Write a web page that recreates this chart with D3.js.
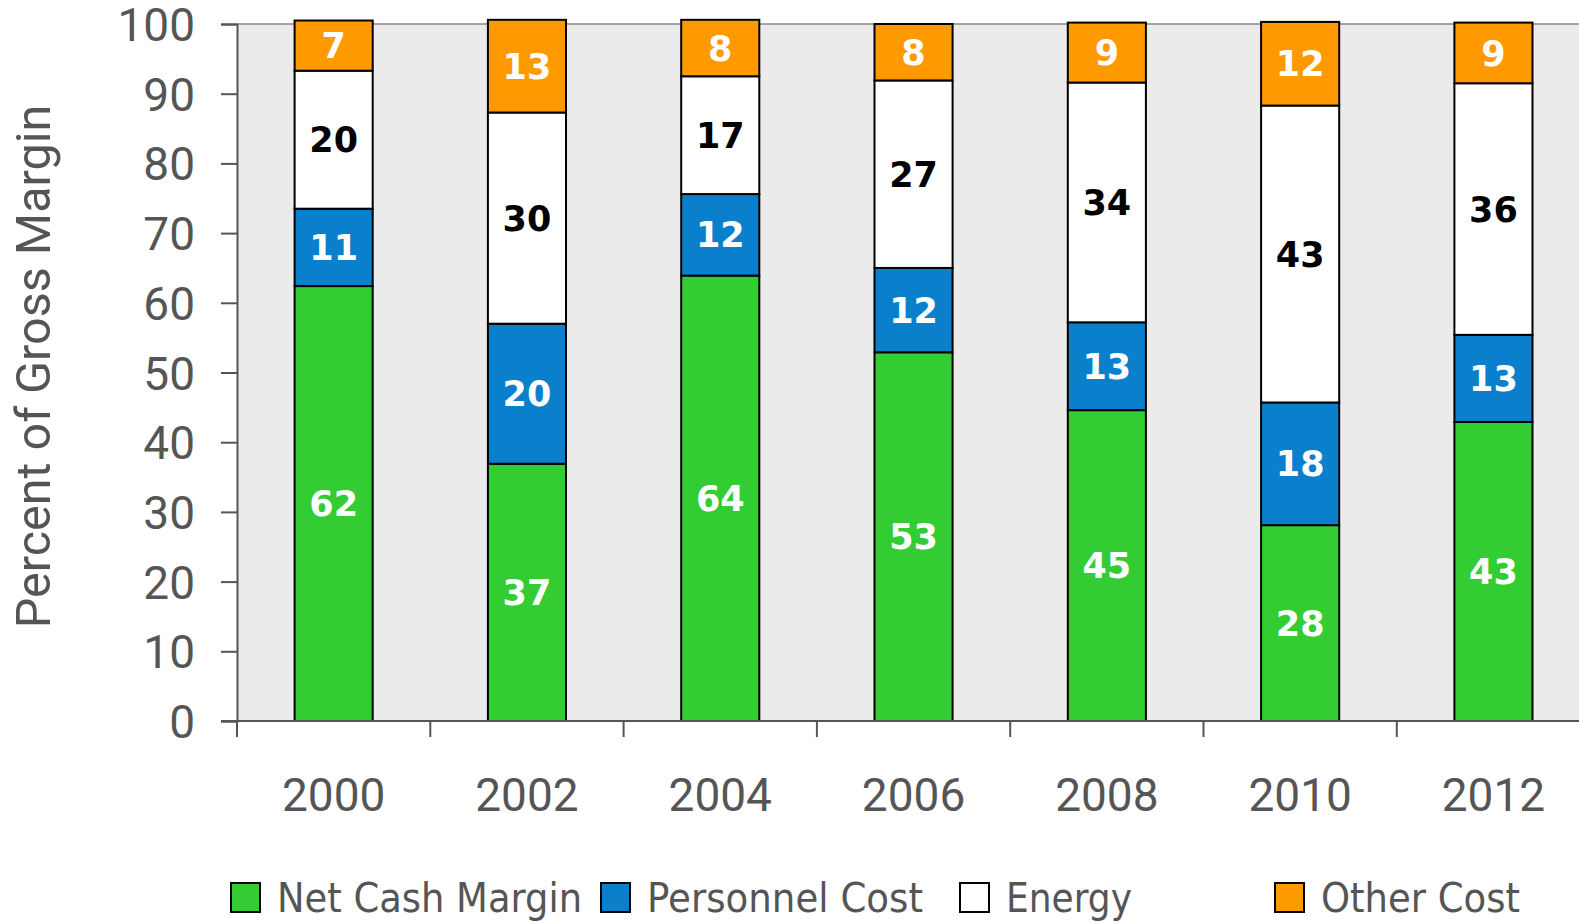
<!DOCTYPE html>
<html>
<head>
<meta charset="utf-8">
<script src="https://cdnjs.cloudflare.com/ajax/libs/d3/7.8.5/d3.min.js"></script>
<style>
  body { margin: 0; background: #fff; }
  svg { display: block; }
</style>
</head>
<body>
<svg width="1579" height="922"></svg>
<script>
var years = ["2000", "2002", "2004", "2006", "2008", "2010", "2012"];
var seriesNames = ["Net Cash Margin", "Personnel Cost", "Energy", "Other Cost"];
var netCash   = [62.4, 36.9, 63.9, 52.9, 44.6, 28.1, 42.9];
var personnel = [11.1, 20.1, 11.7, 12.1, 12.6, 17.6, 12.5];
var energy    = [19.8, 30.3, 16.9, 26.9, 34.4, 42.6, 36.1];
var other     = [7.2, 13.3, 8.1, 8.1, 8.6, 12.0, 8.7];
var yTicks = [0, 10, 20, 30, 40, 50, 60, 70, 80, 90, 100];

var colors = ["#33cc33", "#0a7fcc", "#ffffff", "#ff9900"];
var labelColors = ["#fff", "#fff", "#000", "#fff"];
var keys = ["net", "pers", "energy", "other"];

var rows = years.map(function(y, i) {
  return { year: y, net: netCash[i], pers: personnel[i], energy: energy[i], other: other[i] };
});

var svg = d3.select("svg"),
    width = 1579,
    plotLeft = 237,
    plotTop = 24,
    plotBottom = 721;

var x = d3.scaleBand().domain(years).range([plotLeft, plotLeft + 7 * 193.3]).padding(0);
var y = d3.scaleLinear().domain([0, 100]).range([plotBottom, plotTop]);
var barW = x.bandwidth() * 0.404;

// plot background
svg.append("rect")
    .attr("x", plotLeft).attr("y", y(100))
    .attr("width", width - plotLeft).attr("height", y(0) - y(100))
    .attr("fill", "#ebebeb");

svg.append("line")
    .attr("x1", plotLeft).attr("x2", width)
    .attr("y1", y(100)).attr("y2", y(100))
    .attr("stroke", "#888").attr("stroke-width", 1.5);

var layers = d3.stack().keys(keys)(rows);

var layer = svg.append("g").selectAll("g")
  .data(layers)
  .enter().append("g")
    .attr("fill", function(d, i) { return colors[i]; });

layer.selectAll("rect")
  .data(function(d) { return d; })
  .enter().append("rect")
    .attr("x", function(d) { return x(d.data.year) + (x.bandwidth() - barW) / 2; })
    .attr("y", function(d) { return y(d[1]); })
    .attr("width", barW)
    .attr("height", function(d) { return y(d[0]) - y(d[1]); })
    .attr("stroke", "#000")
    .attr("stroke-width", 2);

layer.each(function(l, li) {
  d3.select(this).selectAll("text")
    .data(l)
    .enter().append("text")
      .attr("x", function(d) { return x(d.data.year) + x.bandwidth() / 2; })
      .attr("y", function(d) { return (y(d[0]) + y(d[1])) / 2; })
      .attr("dy", "0.36em")
      .attr("text-anchor", "middle")
      .attr("font-family", "DejaVu Sans, sans-serif")
      .attr("font-weight", "bold")
      .attr("font-size", 35)
      .attr("fill", labelColors[li])
      .text(function(d) { return Math.round(d[1] - d[0]); });
});

// y axis
var yAxis = svg.append("g")
    .attr("transform", "translate(" + plotLeft + ",0)")
    .call(d3.axisLeft(y).tickValues(yTicks).tickSize(16).tickPadding(26));
yAxis.selectAll("text")
    .attr("font-family", "Roboto, sans-serif")
    .attr("font-size", 46)
    .attr("fill", "#555")
    .attr("dy", "0.36em");
yAxis.select(".domain").attr("stroke", "#555").attr("stroke-width", 2);
yAxis.selectAll(".tick line").attr("stroke", "#555").attr("stroke-width", 2);

// x axis
var xAxis = svg.append("g")
    .attr("transform", "translate(0," + plotBottom + ")")
    .call(d3.axisBottom(x).tickSize(0));
xAxis.select(".domain").remove();
xAxis.selectAll("text")
    .attr("font-family", "Roboto, sans-serif")
    .attr("font-size", 46)
    .attr("fill", "#555")
    .attr("dy", 0)
    .attr("y", 90);

svg.append("line")
    .attr("x1", plotLeft - 16).attr("x2", width)
    .attr("y1", plotBottom).attr("y2", plotBottom)
    .attr("stroke", "#555").attr("stroke-width", 2);

svg.append("g").selectAll("line")
  .data(years)
  .enter().append("line")
    .attr("x1", function(d) { return x(d); })
    .attr("x2", function(d) { return x(d); })
    .attr("y1", plotBottom).attr("y2", plotBottom + 16)
    .attr("stroke", "#555").attr("stroke-width", 2);

svg.append("text")
    .attr("transform", "translate(50," + ((plotTop + plotBottom) / 2 - 6) + ") rotate(-90)")
    .attr("text-anchor", "middle")
    .attr("font-family", "Roboto, sans-serif")
    .attr("font-size", 48.5)
    .attr("fill", "#555")
    .text("Percent of Gross Margin");

// legend
var legendX = [231, 601, 960, 1275];
var legendW = [305, 276, 126, 199];
var legend = svg.append("g").selectAll("g")
  .data(seriesNames)
  .enter().append("g")
    .attr("transform", function(d, i) { return "translate(" + legendX[i] + ",883)"; });

legend.append("rect")
    .attr("width", 29).attr("height", 29)
    .attr("fill", function(d, i) { return colors[i]; })
    .attr("stroke", "#000").attr("stroke-width", 2);

legend.append("text")
    .attr("x", 46)
    .attr("y", 29)
    .attr("font-family", "DejaVu Sans, sans-serif")
    .attr("font-size", 41)
    .attr("fill", "#555")
    .attr("textLength", function(d, i) { return legendW[i]; })
    .attr("lengthAdjust", "spacingAndGlyphs")
    .text(function(d) { return d; });
</script>
</body>
</html>
